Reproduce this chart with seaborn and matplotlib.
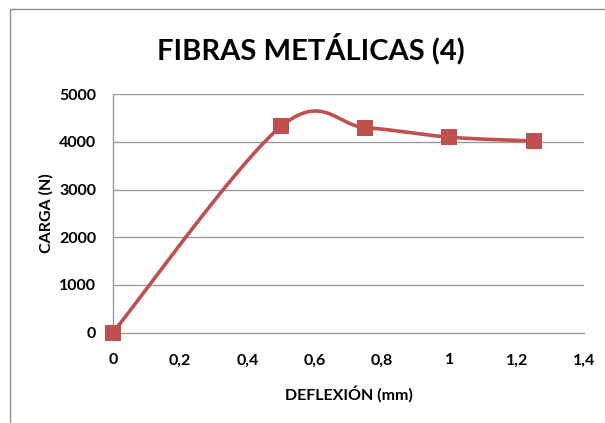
import numpy as np
import pandas as pd
import matplotlib
matplotlib.use("Agg")
import matplotlib.pyplot as plt
import seaborn as sns

# Load-deflection data
deflexion = [0.0, 0.5, 0.75, 1.0, 1.25]
carga = [0, 4330, 4300, 4100, 4020]
x_ticks = [0, 0.2, 0.4, 0.6, 0.8, 1, 1.2, 1.4]
x_tick_labels = ["0", "0,2", "0,4", "0,6", "0,8", "1", "1,2", "1,4"]
y_ticks = [0, 1000, 2000, 3000, 4000, 5000]
y_tick_labels = ["0", "1000", "2000", "3000", "4000", "5000"]

RED = "#C0504D"
GRID = "#9a9a9a"


def smooth_curve(xs, ys, n=40):
    """Catmull-Rom style smoothing through every point (spreadsheet 'smoothed line')."""
    p = np.column_stack([xs, ys]).astype(float)
    ext = np.vstack([p[0], p, p[-1]])
    out = []
    for i in range(1, len(ext) - 2):
        p0, p1, p2, p3 = ext[i - 1], ext[i], ext[i + 1], ext[i + 2]
        c1 = p1 + (p2 - p0) / 6.0
        c2 = p2 - (p3 - p1) / 6.0
        t = np.linspace(0, 1, n)[:, None]
        seg = ((1 - t) ** 3) * p1 + 3 * ((1 - t) ** 2) * t * c1 + 3 * (1 - t) * t ** 2 * c2 + t ** 3 * p2
        out.append(seg if i == 1 else seg[1:])
    return np.vstack(out)


df = pd.DataFrame({"deflexion": deflexion, "carga": carga})
curve = smooth_curve(df["deflexion"].values, df["carga"].values)
curve_df = pd.DataFrame({"deflexion": curve[:, 0], "carga": curve[:, 1]})

sns.set_style("white")
plt.rcParams["font.family"] = ["Lato", "DejaVu Sans"]
plt.rcParams["text.color"] = "black"
plt.rcParams["axes.labelcolor"] = "black"
plt.rcParams["xtick.color"] = "black"
plt.rcParams["ytick.color"] = "black"

fig = plt.figure(figsize=(6.05, 4.23), dpi=100)
ax = fig.add_axes([113 / 605, (423 - 332.5) / 423, (584 - 113) / 605, (332.5 - 94.3) / 423])

# Outer chart frame
fig.patches.append(plt.Rectangle((9.5 / 605, -0.1), 1.2, (423 - 9.5) / 423 + 0.1,
                                 transform=fig.transFigure, fill=False,
                                 edgecolor="#8c8c8c", linewidth=1.0))

for yv in y_ticks[1:]:
    ax.axhline(yv, color=GRID, linewidth=1.0, zorder=0)

sns.lineplot(data=curve_df, x="deflexion", y="carga", ax=ax, color=RED,
             linewidth=2.6, sort=False, estimator=None, zorder=3)
sns.scatterplot(data=df, x="deflexion", y="carga", ax=ax, marker="s", s=120,
                color=RED, edgecolor=RED, linewidth=0, zorder=4, clip_on=False)

ax.set_xlim(0, 1.4)
ax.set_ylim(0, 5000)
ax.set_xticks(x_ticks)
ax.set_xticklabels(x_tick_labels)
ax.set_yticks(y_ticks)
ax.set_yticklabels(y_tick_labels)
ax.tick_params(length=0, labelsize=11.5)
ax.tick_params(axis="x", pad=15)
ax.tick_params(axis="y", pad=12)
for lab in ax.get_xticklabels() + ax.get_yticklabels():
    lab.set_fontweight("bold")

for side in ["top", "right"]:
    ax.spines[side].set_visible(False)
ax.spines["left"].set_color(GRID)
ax.spines["bottom"].set_color(GRID)
ax.spines["left"].set_linewidth(1.0)
ax.spines["bottom"].set_linewidth(1.0)

ax.set_xlabel("DEFLEXIÓN (mm)", fontsize=11.5, fontweight="bold", labelpad=13)
ax.set_ylabel("CARGA (N)", fontsize=11.5, fontweight="bold", labelpad=4)

fig.text(311 / 605, 1 - 49 / 423, "FIBRAS METÁLICAS (4)", ha="center", va="center",
         fontsize=21, fontweight="bold")

fig.savefig("out.png", dpi=100)
